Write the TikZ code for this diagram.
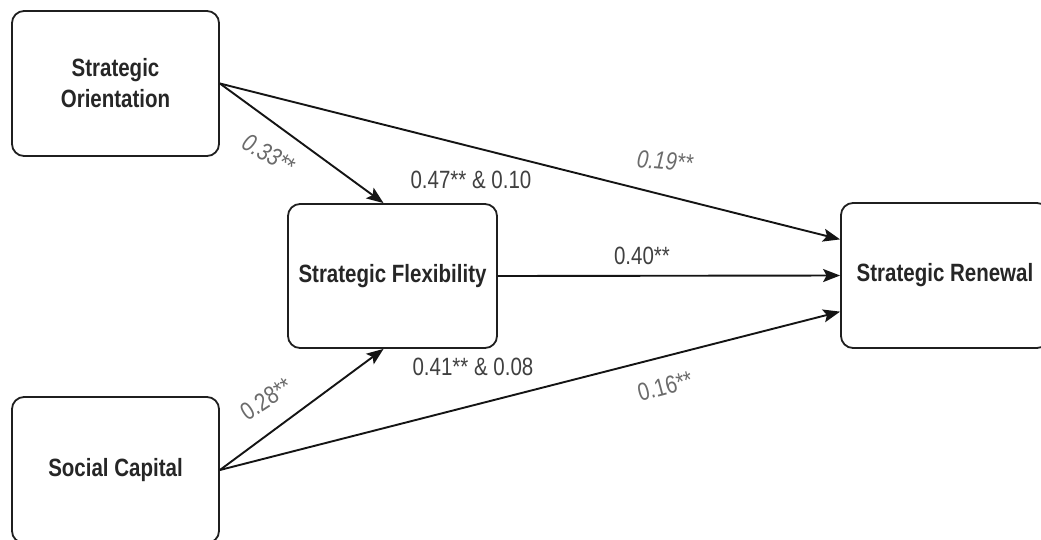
\documentclass[tikz,border=0pt]{standalone}
\usepackage{fontspec}
\setmainfont{Liberation Sans}[FakeStretch=0.82]
\usetikzlibrary{arrows.meta}
\begin{document}
\begin{tikzpicture}[x=1pt,y=-1pt,
  box/.style={draw=black!88, line width=1.8pt, rounded corners=12pt, fill=white, align=center,
    font=\bfseries\fontsize{25}{31}\selectfont, text=black!85, inner sep=0pt},
  conn/.style={line width=1.9pt, draw=black!92, -{Stealth[length=17pt,width=13pt,inset=3.5pt]}},
  lab/.style={font=\fontsize{25}{30}\selectfont, text=black!75, inner sep=0pt},
  glab/.style={font=\fontsize{25}{30}\selectfont, text=black!58, inner sep=0pt}]
\useasboundingbox (0,0) rectangle (1041,539);
\fill[white] (0,0) rectangle (1041,539);
\node[box, minimum width=207pt, minimum height=145pt] (so) at (115.5,83.5) {Strategic\\Orientation};
\node[box, minimum width=209pt, minimum height=144pt] (sf) at (392.5,276) {Strategic Flexibility};
\node[box, minimum width=208pt, minimum height=145pt] (sr) at (945,275.5) {Strategic Renewal};
\node[box, minimum width=207pt, minimum height=146pt] (sc) at (115.5,470) {Social Capital};

\draw[conn] (so.east) -- (sf.97);
\draw[conn] (so.east) -- (sr.161);
\draw[conn] (sf.east) -- (sr.west);
\draw[conn] (sc.east) -- (sf.263);
\draw[conn] (sc.east) -- (sr.199);

\node[glab, rotate=-30, font=\itshape\fontsize{25}{30}\selectfont] (l33) at (269,154) {0.33**};
\node[glab, rotate=-5, font=\itshape\fontsize{25}{30}\selectfont] (l19) at (665,161) {0.19**};
\node[glab, rotate=33] (l28) at (266,399) {0.28**};
\node[glab, rotate=15] (l16) at (665,386) {0.16**};
\node[lab] (l47) at (471,180) {0.47** \& 0.10};
\node[lab] (l41) at (473,367) {0.41** \& 0.08};
\node[lab] (l40) at (642,256) {0.40**};
\end{tikzpicture}
\end{document}
